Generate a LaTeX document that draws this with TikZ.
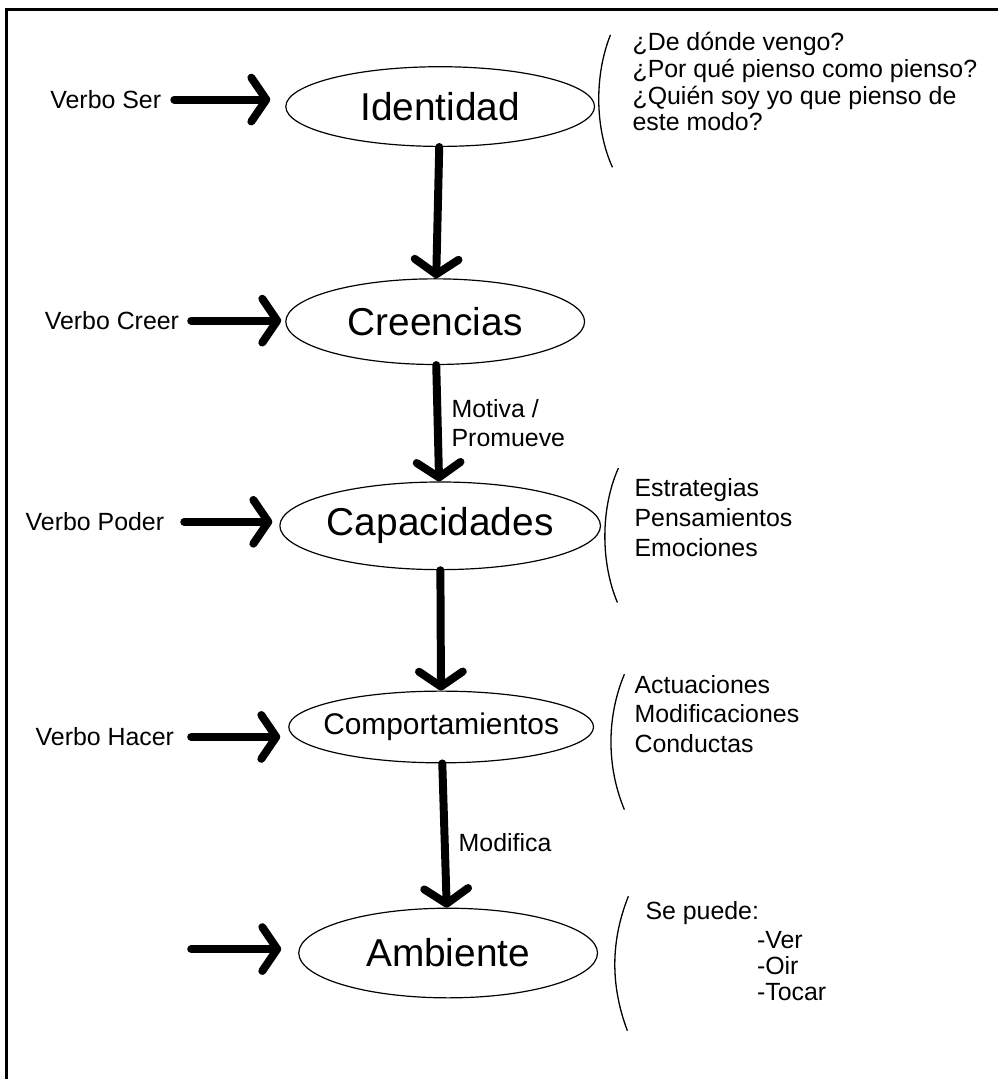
\documentclass[tikz,border=0pt]{standalone}
\usepackage{fontspec}
\setmainfont{Liberation Sans}
\usetikzlibrary{arrows.meta,positioning,shapes.geometric}

\begin{document}
\begin{tikzpicture}[
  x=1pt, y=-1pt,
  nivel/.style={draw, ellipse, line width=1.2pt, inner sep=0pt,
                minimum width=310pt, minimum height=80pt,
                font=\fontsize{39}{42}\selectfont},
  verbo/.style={font=\fontsize{25}{28}\selectfont, anchor=east, inner sep=0pt},
  lista/.style={font=\fontsize{25}{28}\selectfont, align=left, anchor=west, inner sep=0pt},
  etq/.style={font=\fontsize{25}{29}\selectfont, align=left, inner sep=0pt},
  flecha/.style={line width=8pt, line cap=round,
                 -{Straight Barb[length=15pt,width=44pt,round]}},
  llave/.style={line width=1.3pt},
]

% page and frame
\fill[white] (0,0) rectangle (999,1080);
\draw[line width=3pt] (1002,10) -| (7,1083);

% the five levels
\node[nivel] (id) at (442,107) {Identidad};
\node[nivel, minimum width=300pt, minimum height=86pt] (cre) at (437,323) {Creencias};
\node[nivel, minimum height=88pt] (cap) at (442,528) {Capacidades};
\node[nivel, minimum width=306pt, minimum height=72pt, inner xsep=-40pt,
      font=\fontsize{30}{34}\selectfont] (comp) at (443,730) {Comportamientos};
\node[nivel, minimum width=300pt, minimum height=90pt] (amb) at (450,957) {Ambiente};

% verbs on the left
\node[verbo] (vser) at (162,100) {Verbo Ser};
\node[verbo] (vcre) at (180,322) {Verbo Creer};
\node[verbo] (vpod) at (165,524) {Verbo Poder};
\node[verbo] (vhac) at (175,740) {Verbo Hacer};
\coordinate (vamb) at (192,953);

\draw[flecha, shorten <=13pt, shorten >=15pt] (vser.east) -- (vser.east -| id.west);
\draw[flecha, shorten <=12pt, shorten >=4pt] (vcre.east) -- (vcre.east -| cre.west);
\draw[flecha, shorten <=20pt, shorten >=7pt] (vpod.east) -- (vpod.east -| cap.west);
\draw[flecha, shorten <=17pt, shorten >=8pt] (vhac.east) -- (vhac.east -| comp.west);
\draw[flecha, shorten >=17pt] (vamb) -- (vamb -| amb.west);

% down the chain
\draw[flecha] (id) -- (cre);
\draw[flecha] (cre) -- node[etq, right=10pt] {Motiva /\\Promueve} (cap);
\draw[flecha] (cap) -- (comp);
\draw[flecha] (comp) -- node[etq, right=10pt, pos=0.55] {Modifica} (amb);

% notes on the right
\node[lista, font=\fontsize{25}{26.7}\selectfont] (qid) at (635,82)
  {¿De dónde vengo?\\¿Por qué pienso como pienso?\\¿Quién soy yo que pienso de\\este modo?};
\node[lista, font=\fontsize{25}{30}\selectfont] (qcap) at (637,520)
  {Estrategias\\Pensamientos\\Emociones};
\node[lista, font=\fontsize{25}{30}\selectfont] (qcomp) at (637,717)
  {Actuaciones\\Modificaciones\\Conductas};
\node[lista] (sp) at (648,917) {Se puede:};
\node[lista, font=\fontsize{25}{26}\selectfont] (spl) at (760,970) {-Ver\\-Oir\\-Tocar};

\draw[llave] (613,35) .. controls (597,75) and (597,128) .. (615,168);
\draw[llave] (621,470) .. controls (603,510) and (603,565) .. (620,605);
\draw[llave] (627,677) .. controls (609,720) and (609,770) .. (627,813);
\draw[llave] (631,900) .. controls (613,945) and (613,990) .. (630,1035);

\end{tikzpicture}
\end{document}
